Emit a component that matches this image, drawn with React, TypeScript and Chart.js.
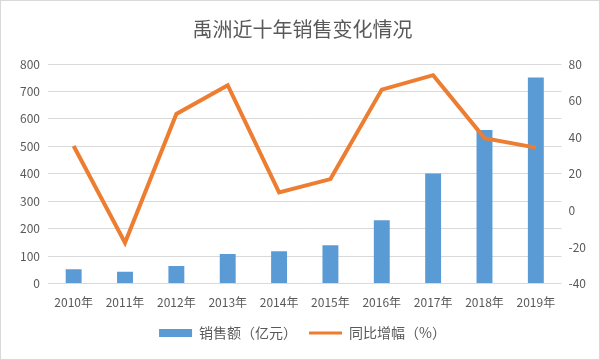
import React, { useEffect, useRef } from "react";
import { Chart, registerables } from "chart.js";

Chart.register(...registerables);

const titleText = "禹洲近十年销售变化情况";
const categories = ["2010年", "2011年", "2012年", "2013年", "2014年", "2015年", "2016年", "2017年", "2018年", "2019年"];
const salesName = "销售额（亿元）";
const salesValues = [52, 43, 64, 108, 118, 140, 231, 401, 560, 751];
const growthName = "同比增幅（%）";
const growthValues = [35.2, -17.7, 52.7, 68.4, 9.8, 17.1, 66, 73.9, 39.5, 34.3];

const FONT = "'Noto Sans CJK SC', 'Noto Sans', sans-serif";
const TEXT = "#595959";

export default function App() {
  const ref = useRef<HTMLCanvasElement | null>(null);
  useEffect(() => {
    if (!ref.current) return;
    const chart = new Chart(ref.current, {
      type: "bar",
      data: {
        labels: categories,
        datasets: [
          {
            type: "bar",
            label: salesName,
            data: salesValues,
            backgroundColor: "#5B9BD5",
            yAxisID: "y",
            categoryPercentage: 1,
            barPercentage: 0.31,
            order: 2,
          },
          {
            type: "line",
            label: growthName,
            data: growthValues,
            borderColor: "#ED7D31",
            backgroundColor: "#ED7D31",
            borderWidth: 4,
            pointRadius: 0,
            tension: 0,
            yAxisID: "y1",
            order: 1,
          },
        ],
      },
      options: {
        animation: false,
        responsive: false,
        maintainAspectRatio: false,
        layout: { padding: { left: 11, right: 6, top: 4, bottom: 9 } },
        plugins: {
          tooltip: { enabled: false },
          title: {
            display: true,
            text: titleText,
            color: TEXT,
            font: { family: FONT, size: 20, weight: "normal" },
            padding: { top: 12, bottom: 23 },
          },
          legend: {
            position: "bottom",
            labels: {
              color: TEXT,
              font: { family: FONT, size: 14 },
              usePointStyle: true,
              pointStyleWidth: 33,
              boxHeight: 8,
              padding: 12,
              sort: (a: any, b: any) => a.datasetIndex - b.datasetIndex,
              generateLabels: (c: any) => {
                const items = Chart.defaults.plugins.legend.labels.generateLabels(c);
                items.forEach((it: any) => {
                  if (it.datasetIndex === 0) {
                    it.pointStyle = "rect";
                    it.lineWidth = 0;
                    it.fillStyle = "#5B9BD5";
                  } else {
                    it.pointStyle = "line";
                    it.lineWidth = 3;
                    it.strokeStyle = "#ED7D31";
                  }
                });
                return items;
              },
            },
          },
        },
        scales: {
          x: {
            grid: { display: false },
            border: { display: false },
            ticks: { color: TEXT, font: { family: FONT, size: 12 }, maxRotation: 0, autoSkip: false, padding: 4 },
          },
          y: {
            position: "left",
            min: 0,
            max: 800,
            ticks: { stepSize: 100, color: TEXT, font: { family: FONT, size: 12 }, padding: 8 },
            grid: { color: "#D9D9D9", drawTicks: false },
            border: { display: false },
          },
          y1: {
            position: "right",
            min: -40,
            max: 80,
            ticks: { stepSize: 20, color: TEXT, font: { family: FONT, size: 12 }, padding: 7 },
            grid: { display: false, drawTicks: false },
            border: { display: false },
          },
        },
      },
    });
    return () => chart.destroy();
  }, []);
  return (
    <div
      style={{
        position: "absolute",
        left: 0,
        top: 0,
        width: 600,
        height: 360,
        boxSizing: "border-box",
        border: "1px solid #D9D9D9",
        background: "#fff",
      }}
    >
      <canvas ref={ref} width={598} height={358} />
    </div>
  );
}
